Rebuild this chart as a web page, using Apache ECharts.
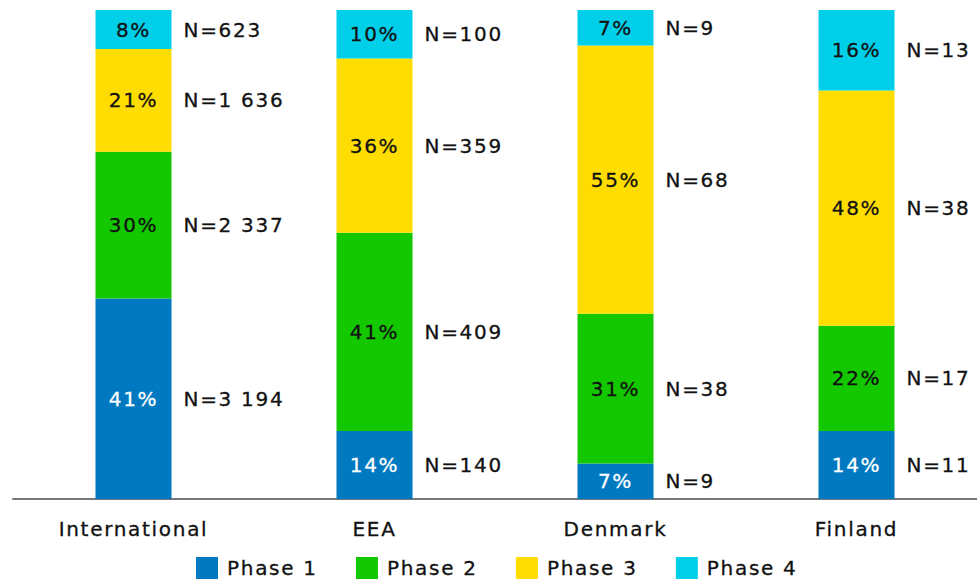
<!DOCTYPE html>
<html>
<head>
<meta charset="utf-8">
<script src="https://cdn.jsdelivr.net/npm/echarts@6/dist/echarts.min.js"></script>
<style>
  html, body { margin: 0; padding: 0; background: #ffffff; }
  #chart { width: 977px; height: 583px; }
  /* wide tracking for all chart text */
  #chart text { letter-spacing: 1.7px; }
</style>
</head>
<body>
<div id="chart"></div>
<script>
// Respondent counts per phase and region; shares are derived from them.
const categories = ['International', 'EEA', 'Denmark', 'Finland'];
const phaseNames = ['Phase 1', 'Phase 2', 'Phase 3', 'Phase 4'];
const phase1 = [3194, 140, 9, 11];
const phase2 = [2337, 409, 38, 17];
const phase3 = [1636, 359, 68, 38];
const phase4 = [623, 100, 9, 13];

const counts = [phase1, phase2, phase3, phase4];
const colors = ['#0079c1', '#14c800', '#ffdd00', '#00cfea'];
const labelColors = ['#ffffff', '#111111', '#111111', '#111111'];
const FONT = 'DejaVu Sans';
const FS = 20;
const INK = '#111111';
const STROKE = 0.3; // thin outline in the text colour for a medium weight

const totals = categories.map((_, i) => counts.reduce((s, arr) => s + arr[i], 0));
const shares = counts.map(arr => arr.map((v, i) => v / totals[i] * 100));

function formatN(n) {
  return 'N=' + String(n).replace(/\B(?=(\d{3})+(?!\d))/g, ' ');
}

const series = [];
// Visible stacked bars with share labels inside
phaseNames.forEach((name, k) => {
  series.push({
    name: name,
    type: 'bar',
    stack: 'share',
    barWidth: 76,
    data: shares[k],
    itemStyle: { color: colors[k] },
    label: {
      show: true,
      position: 'inside',
      formatter: p => Math.round(p.value) + '%',
      color: labelColors[k],
      textBorderColor: labelColors[k],
      textBorderWidth: STROKE,
      fontFamily: FONT,
      fontSize: FS
    },
    emphasis: { disabled: true }
  });
});
// Transparent twin stack carrying the count labels to the right of each segment
phaseNames.forEach((name, k) => {
  series.push({
    name: name + ' N',
    type: 'bar',
    stack: 'count',
    barWidth: 76,
    barGap: '-100%',
    data: shares[k],
    itemStyle: { color: 'rgba(0,0,0,0)' },
    label: {
      show: true,
      position: 'right',
      distance: 12,
      formatter: p => formatN(counts[k][p.dataIndex]),
      color: INK,
      textBorderColor: INK,
      textBorderWidth: STROKE,
      fontFamily: FONT,
      fontSize: FS
    },
    silent: true,
    emphasis: { disabled: true }
  });
});

const chart = echarts.init(document.getElementById('chart'), null, { renderer: 'svg' });
chart.setOption({
  animation: false,
  grid: { left: 13, right: 0, top: 10, bottom: 84, containLabel: false },
  legend: {
    data: phaseNames,
    top: 552,
    left: 191,
    itemWidth: 22,
    itemHeight: 22,
    itemGap: 50,
    icon: 'rect',
    textStyle: {
      fontFamily: FONT, fontSize: FS, color: INK,
      textBorderColor: INK, textBorderWidth: STROKE,
      padding: [0, 0, 0, 4]
    }
  },
  xAxis: {
    type: 'category',
    data: categories,
    axisLine: { lineStyle: { color: '#777777', width: 2 } },
    axisTick: { show: false },
    axisLabel: {
      margin: 20, fontFamily: FONT, fontSize: FS, color: INK,
      textBorderColor: INK, textBorderWidth: STROKE
    }
  },
  yAxis: {
    type: 'value',
    min: 0,
    max: 100,
    show: false,
    splitLine: { show: false }
  },
  series: series
});
</script>
</body>
</html>
